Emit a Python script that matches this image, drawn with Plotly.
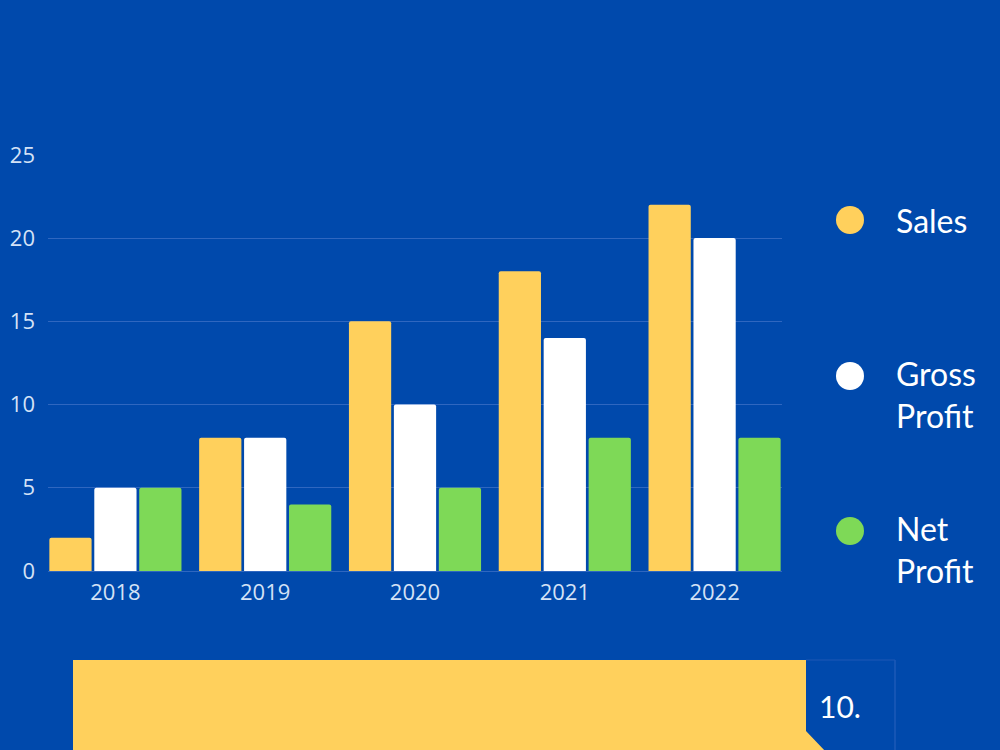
import plotly.graph_objects as go

years = ["2018", "2019", "2020", "2021", "2022"]
sales = [2, 8, 15, 18, 22]
gross_profit = [5, 8, 10, 14, 20]
net_profit = [5, 4, 5, 8, 8]

series_names = ["Sales", "Gross<br>Profit", "Net<br>Profit"]
series_colors = ["#ffd05c", "#ffffff", "#7ed957"]
y_ticks = [0, 5, 10, 15, 20, 25]
badge_text = "10."

BG = "#0049ac"

fig = go.Figure()
for name, vals, col in zip(series_names, [sales, gross_profit, net_profit], series_colors):
    fig.add_trace(go.Bar(x=years, y=vals, name=name.replace("<br>", " "),
                         marker=dict(color=col, line=dict(width=0)), showlegend=False))

# plot area: x 48..782, y 154..571
L, R, T, B = 48, 218, 154, 179
W, H = 1000, 750
pw, ph = W - L - R, H - T - B

def px(x):
    return (x - L) / pw

def py(y):
    return (H - B - y) / ph

shapes = []
annotations = []
legend_y = [220, 394, 549.5]
circle_y = [220, 376, 531]
for name, col, ly, cy in zip(series_names, series_colors, legend_y, circle_y):
    r = 14
    shapes.append(dict(type="circle", xref="paper", yref="paper",
                       x0=px(850 - r), x1=px(850 + r), y0=py(cy + r), y1=py(cy - r),
                       fillcolor=col, line=dict(width=0)))
    annotations.append(dict(text=name, xref="paper", yref="paper", x=px(894), y=py(ly),
                            xanchor="left", yanchor="middle", showarrow=False, align="left",
                            font=dict(family="Lato", size=32, color="#ffffff")))

# bottom decoration
shapes.append(dict(type="path", xref="paper", yref="paper",
                   path=f"M {px(73)},{py(660)} L {px(806)},{py(660)} L {px(806)},{py(731)} "
                        f"L {px(826)},{py(752)} L {px(73)},{py(752)} Z",
                   fillcolor="#ffd05c", line=dict(width=0)))
shapes.append(dict(type="line", xref="paper", yref="paper",
                   x0=px(895), x1=px(895), y0=py(660), y1=py(752),
                   line=dict(color="#2a62bd", width=1)))
shapes.append(dict(type="line", xref="paper", yref="paper",
                   x0=px(806), x1=px(895), y0=py(660), y1=py(660),
                   line=dict(color="#1f58b5", width=1)))
annotations.append(dict(text=badge_text, xref="paper", yref="paper", x=px(817), y=py(706),
                        xanchor="left", yanchor="middle", showarrow=False,
                        font=dict(family="Lato", size=30, color="#ffffff")))

fig.update_layout(
    width=W, height=H,
    paper_bgcolor=BG, plot_bgcolor=BG,
    margin=dict(l=L, r=R, t=T, b=B),
    barmode="group", bargap=0.1, bargroupgap=0.06, barcornerradius=2,
    shapes=shapes, annotations=annotations,
    font=dict(family="Open Sans", color="#d4e2f6"),
)
fig.update_yaxes(range=[0, 25.05], tickvals=y_ticks, showgrid=True, gridcolor="#2f67c0",
                 gridwidth=1, zeroline=False, showline=False, ticks="",
                 tickfont=dict(family="Open Sans", size=22, color="#d4e2f6"),
                 ticklabelstandoff=12, automargin=False)
fig.update_xaxes(range=[-0.45, 4.45], showgrid=False, showline=True, linecolor="#2f67c0", ticks="",
                 tickfont=dict(family="Open Sans", size=22, color="#d4e2f6"),
                 ticklabelstandoff=2, automargin=False)

fig.write_html("out.html")
